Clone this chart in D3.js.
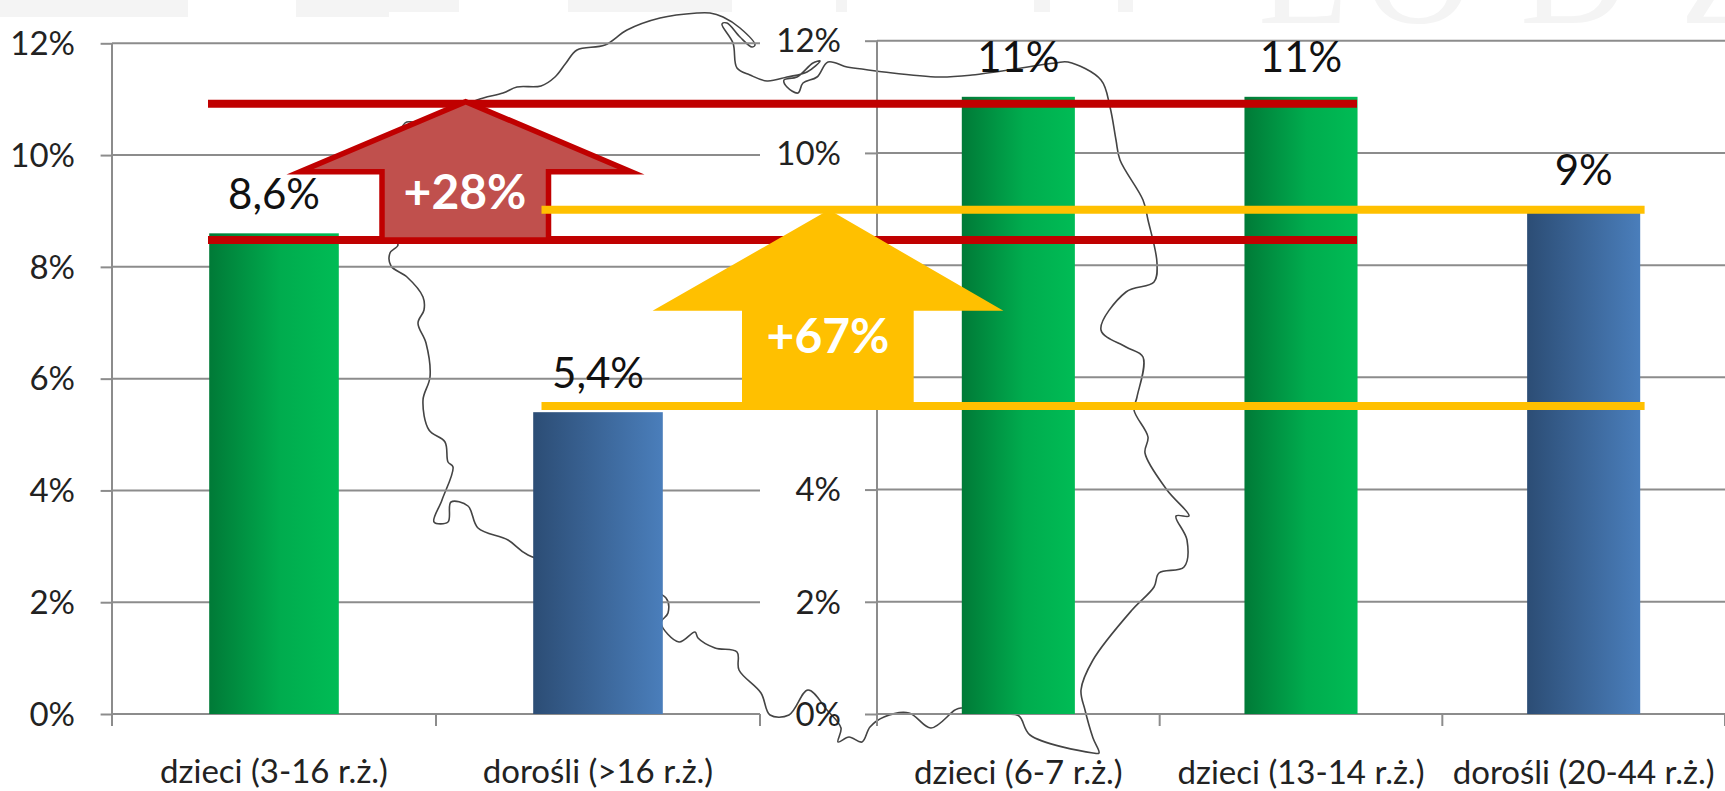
<!DOCTYPE html>
<html><head><meta charset="utf-8">
<script src="https://cdnjs.cloudflare.com/ajax/libs/d3/7.8.5/d3.min.js"></script>
<style>html,body{margin:0;padding:0;background:#fff;overflow:hidden}svg{display:block}
text{font-family:Lato,"Open Sans",sans-serif}</style></head><body>
<svg id="c" width="1725" height="791"></svg>
<script>
// Data
const leftCategories = ["dzieci (3-16 r.ż.)", "dorośli (>16 r.ż.)"];
const leftValues = [8.6, 5.4];
const leftLabels = ["8,6%", "5,4%"];
const rightCategories = ["dzieci (6-7 r.ż.)", "dzieci (13-14 r.ż.)", "dorośli (20-44 r.ż.)"];
const rightValues = [11, 11, 9];
const rightLabels = ["11%", "11%", "9%"];
const leftGroups = ["child", "adult"];
const rightGroups = ["child", "child", "adult"];
const yTicks = [0, 2, 4, 6, 8, 10, 12];
const redLevels = [8.48, 10.92];
const yellowLevels = [5.51, 9.02];
const redText = "+28%";
const yellowText = "+67%";

// Background map outline (decorative contour, in picture pixels)
const mapOutline = [[862,69],[847,67],[828,62],[817,77],[803,83],[798,93],[787,87],[784,80],[797,77],[813,63],[820,61],[807,72],[787,77],[767,81],[750,75],[737,68],[733,43],[722,24],[727,23],[740,37],[752,47],[755,45],[740,28],[723,17],[710,13],[697,13],[660,18],[627,30],[605,45],[577,50],[566,63],[555,77],[541,86],[517,87],[503,93],[477,100],[440,118],[415,122],[405,123],[392,175],[392,235],[398,245],[390,253],[391,266],[407,277],[423,297],[424,310],[418,323],[426,343],[430,377],[423,400],[429,430],[445,442],[448,462],[453,467],[442,500],[434,522],[448,522],[451,502],[468,506],[478,528],[508,540],[528,555],[666,598],[668,613],[661,623],[679,642],[695,632],[698,638],[715,648],[737,652],[739,670],[761,693],[770,715],[789,715],[808,690],[827,710],[841,728],[838,742],[849,737],[862,742],[870,727],[884,717],[909,713],[931,728],[955,710],[961,708],[1005,714],[1019,716],[1030,735],[1093,753],[1099,753],[1093,738],[1085,710],[1081,690],[1093,660],[1132,610],[1154,587],[1159,573],[1184,567],[1187,540],[1176,516],[1189,516],[1167,490],[1145,453],[1148,437],[1134,410],[1137,397],[1143,357],[1126,347],[1101,330],[1126,292],[1154,282],[1157,263],[1148,220],[1143,200],[1120,160],[1116,140],[1110,107],[1101,80],[1068,62],[1055,63],[972,75],[939,77],[884,72],[862,69]];
// Faint watermark at the top edge of the slide
const wmRects = [[0,0,188,17],[296,0,163,12],[296,12,93,5],[568,0,164,12],[836,0,11,12],[1034,0,16,12],[1118,0,15,12]];
const wmLetters = [["Ł",1258],["O",1364],["D",1520],["Z",1680]];

const svg = d3.select("#c");
const defs = svg.append("defs");
function grad(id, stops){
  const g = defs.append("linearGradient").attr("id",id).attr("x1","0").attr("x2","1").attr("y1","0").attr("y2","0");
  stops.forEach(s=>g.append("stop").attr("offset",s[0]).attr("stop-color",s[1]));
}
grad("child",[[0,"#007A37"],[0.55,"#00AC4E"],[1,"#00BC55"]]);
grad("adult",[[0,"#2C4D75"],[1,"#4A7EBB"]]);

// watermark
const wm = svg.append("g").attr("fill","#f4f4f4");
wm.selectAll("rect").data(wmRects).join("rect")
  .attr("x",d=>d[0]).attr("y",d=>d[1]).attr("width",d=>d[2]).attr("height",d=>d[3]);
wm.selectAll("text").data(wmLetters).join("text")
  .attr("x",d=>d[1]).attr("y",23).text(d=>d[0])
  .style("font-family","'Liberation Serif',serif").style("font-size","150px");

// map
svg.append("path").attr("d",d3.line().curve(d3.curveCatmullRom.alpha(0.5))(mapOutline))
  .attr("fill","none").attr("stroke","#444").attr("stroke-width",1.6);

const gridColor = "#8c8c8c";
function panel(o){
  const y = d3.scaleLinear().domain([0,12]).range([o.y0,o.y12]);
  const x = d3.scaleBand().domain(o.cats).range([o.xa,o.xb]).paddingInner(0.6).paddingOuter(0.3);
  const g = svg.append("g");
  // gridlines
  g.selectAll("line.grid").data(yTicks).join("line").attr("class","grid")
    .attr("x1",o.xa).attr("x2",o.gridEnd).attr("y1",d=>y(d)).attr("y2",d=>y(d))
    .attr("stroke",gridColor).attr("stroke-width",2);
  // y axis
  const ya = g.append("g").attr("transform",`translate(${o.xa},0)`)
    .call(d3.axisLeft(y).tickValues(yTicks).tickFormat(d=>d+"%").tickSize(o.xa-o.tickStart).tickPadding(o.pad));
  ya.select(".domain").remove();
  ya.selectAll("line").attr("stroke",gridColor).attr("stroke-width",2);
  ya.selectAll("text").attr("fill","#222").style("font-size","33px").style("font-family","Lato").attr("dy","0.34em");
  g.append("line").attr("x1",o.xa).attr("x2",o.xa).attr("y1",y(12)).attr("y2",726).attr("stroke",gridColor).attr("stroke-width",2);
  // x axis
  const xa = g.append("g").attr("transform",`translate(0,${o.y0})`)
    .call(d3.axisBottom(x).tickSize(0).tickPadding(0));
  xa.select(".domain").remove();
  xa.selectAll("text").attr("fill","#222").attr("y",o.catBase-o.y0).attr("dy",0)
    .style("font-size","33px").style("font-family","Lato");
  // band-edge ticks
  const edges = d3.range(o.cats.length+1).map(i=>o.xa+i*x.step());
  g.selectAll("line.edge").data(edges).join("line").attr("class","edge")
    .attr("x1",d=>d).attr("x2",d=>d).attr("y1",o.y0).attr("y2",726).attr("stroke",gridColor).attr("stroke-width",2);
  // bars
  g.selectAll("rect.bar").data(o.vals).join("rect").attr("class","bar")
    .attr("x",(d,i)=>x(o.cats[i])).attr("width",x.bandwidth())
    .attr("y",d=>y(d)).attr("height",d=>y(0)-y(d))
    .attr("fill",(d,i)=>`url(#${o.groups[i]})`);
  // value labels
  g.selectAll("text.val").data(o.vals).join("text").attr("class","val")
    .attr("x",(d,i)=>x(o.cats[i])+x.bandwidth()/2).attr("y",d=>y(d)-24.5)
    .attr("text-anchor","middle").attr("fill","#111").style("font-size","42px")
    .text((d,i)=>o.labels[i]);
  return {x,y};
}
const L = panel({cats:leftCategories,vals:leftValues,labels:leftLabels,groups:leftGroups,y0:714,y12:43.3,xa:112,xb:760,gridEnd:760,tickStart:100.6,pad:25.6,catBase:783});
const R = panel({cats:rightCategories,vals:rightValues,labels:rightLabels,groups:rightGroups,y0:714,y12:40.7,xa:877,xb:1725,gridEnd:1725,tickStart:865,pad:24,catBase:784});

function hline(level,x1,x2,color){
  svg.append("line").attr("x1",x1).attr("x2",x2).attr("y1",L.y(level)).attr("y2",L.y(level))
    .attr("stroke",color).attr("stroke-width",8);
}
function arrow(pts,fill,stroke){
  const p = svg.append("path").attr("d",d3.line()(pts)+"Z").attr("fill",fill);
  if(stroke) p.attr("stroke",stroke).attr("stroke-width",5.5).attr("stroke-miterlimit",12);
}
const red="#C00000", yellow="#FFC000";
// red annotation
redLevels.forEach(v=>hline(v,208,1357,red));
arrow([[465.7,L.y(redLevels[1])-2],[631,171.7],[548.5,171.7],[548.5,L.y(redLevels[0])],[382,L.y(redLevels[0])],[382,171.7],[300,171.7]],"#C0504D",red);
// yellow annotation
yellowLevels.forEach(v=>hline(v,541.5,1644.6,yellow));
arrow([[829,L.y(yellowLevels[1])],[1003.4,310.7],[913.7,310.7],[913.7,L.y(yellowLevels[0])],[742,L.y(yellowLevels[0])],[742,310.7],[652.6,310.7]],yellow,null);
function big(t,x,y){svg.append("text").attr("x",x).attr("y",y).attr("text-anchor","middle").attr("fill","#fff")
  .style("font-size","48px").style("font-weight","700").text(t);}
big(redText,465,209);
big(yellowText,828,353);
</script></body></html>
